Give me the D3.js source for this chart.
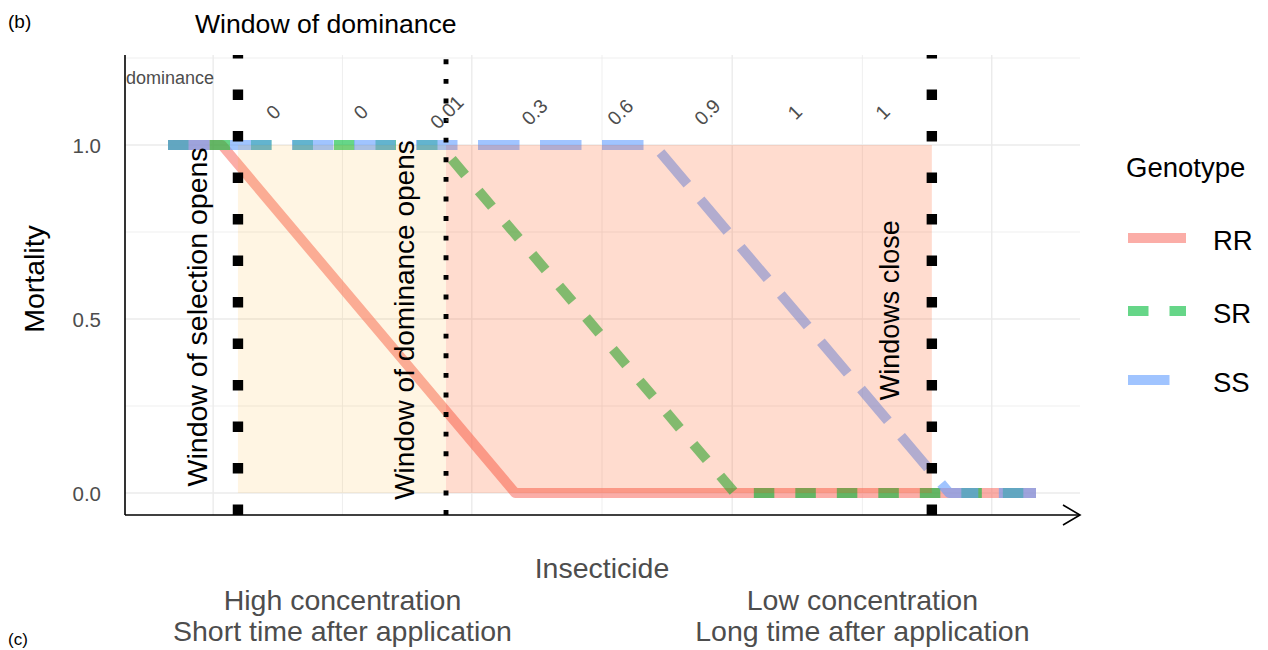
<!DOCTYPE html>
<html>
<head>
<meta charset="utf-8">
<script src="https://cdn.jsdelivr.net/npm/d3@7"></script>
<style>
  html, body { margin: 0; padding: 0; background: #fff; }
  svg { display: block; font-family: "Liberation Sans", Arial, Helvetica, sans-serif; }
</style>
</head>
<body>
<svg id="chart" width="1268" height="650"></svg>
<script>
// ---------- data ----------
const genotypes = ["RR", "SR", "SS"];
const colors = ["#F8766D", "#00BA38", "#619CFF"];
const dashes = [null, "20.5,21", "41.5,20.5"];

const xRR = [0, 0.62, 4.0, 10];
const yRR = [1, 1, 0, 0];
const xSR = [0, 3.13, 6.53, 10];
const ySR = [1, 1, 0, 0];
const xSS = [0, 5.6, 9.0, 10];
const ySS = [1, 1, 0, 0];

const dominanceLabels = ["0", "0", "0.01", "0.3", "0.6", "0.9", "1", "1"];
const dominanceX = [1.21, 2.22, 3.21, 4.22, 5.21, 6.21, 7.22, 8.23];
const dominanceY = 1.095;

const windowLineX = [0.806, 3.203, 8.80];
const windowLineStyle = ["big", "small", "big"];
const windowTexts = ["Window of selection opens", "Window of dominance opens", "Windows close"];
const windowTextX = [0.334, 2.73, 8.32];
const windowTextY = [0.506, 0.497, 0.525];
const windowTextSize = [28.5, 28, 27];

const rectX0 = [0.806, 3.203];
const rectX1 = [3.203, 8.80];
const rectFill = ["#FFA500", "#FF4500"];
const rectOpacity = [0.11, 0.19];

const yTicks = [0, 0.5, 1.0];
const yTickLabels = ["0.0", "0.5", "1.0"];
const yMinor = [0.25, 0.75, 1.25];
const xMajor = [0.52, 3.5, 6.5, 9.49];
const xMinor = [2.01, 5.0, 8.0];

const bottomLabelX = [2.01, 8.0];
const bottomLabels = [["High concentration", "Short time after application"],
                      ["Low concentration", "Long time after application"]];

// ---------- layout ----------
const panel = { left: 125, right: 1080, top: 55, bottom: 515 };
const x = d3.scaleLinear().domain([0, 10]).range([168, 1036]);
const y = d3.scaleLinear().domain([0, 1]).range([493, 145]);

const svg = d3.select("#chart");
const grey = "#4D4D4D";

// grid
const grid = svg.append("g");
grid.selectAll(".hmin").data(yMinor).join("line")
  .attr("x1", panel.left).attr("x2", panel.right)
  .attr("y1", d => y(d)).attr("y2", d => y(d))
  .attr("stroke", "#EBEBEB").attr("stroke-width", 0.8);
grid.selectAll(".hmaj").data(yTicks).join("line")
  .attr("x1", panel.left).attr("x2", panel.right)
  .attr("y1", d => y(d)).attr("y2", d => y(d))
  .attr("stroke", "#EBEBEB").attr("stroke-width", 1.4);
grid.selectAll(".vmin").data(xMinor).join("line")
  .attr("x1", d => x(d)).attr("x2", d => x(d))
  .attr("y1", panel.top).attr("y2", panel.bottom)
  .attr("stroke", "#EBEBEB").attr("stroke-width", 0.8);
grid.selectAll(".vmaj").data(xMajor).join("line")
  .attr("x1", d => x(d)).attr("x2", d => x(d))
  .attr("y1", panel.top).attr("y2", panel.bottom)
  .attr("stroke", "#EBEBEB").attr("stroke-width", 1.4);

// genotype lines
const series = [[xRR, yRR], [xSR, ySR], [xSS, ySS]];
const lineGen = d3.line().x(d => x(d[0])).y(d => y(d[1]));
svg.append("g").selectAll("path").data(series).join("path")
  .attr("d", s => lineGen(s[0].map((v, i) => [v, s[1][i]])))
  .attr("fill", "none")
  .attr("stroke", (d, i) => colors[i])
  .attr("stroke-opacity", 0.6)
  .attr("stroke-width", 10)
  .attr("stroke-linejoin", "round")
  .attr("stroke-linecap", "butt")
  .attr("stroke-dasharray", (d, i) => dashes[i]);

// shaded windows (drawn over the lines, semi-transparent)
svg.append("g").selectAll("rect").data(rectX0).join("rect")
  .attr("x", d => x(d))
  .attr("width", (d, i) => x(rectX1[i]) - x(d))
  .attr("y", y(1)).attr("height", y(0) - y(1))
  .attr("fill", (d, i) => rectFill[i])
  .attr("fill-opacity", (d, i) => rectOpacity[i]);

// window lines (dotted)
svg.append("g").selectAll("line").data(windowLineX).join("line")
  .attr("x1", d => x(d)).attr("x2", d => x(d))
  .attr("y1", panel.bottom).attr("y2", panel.top)
  .attr("stroke", "#000")
  .attr("stroke-width", (d, i) => windowLineStyle[i] === "big" ? 10.4 : 4.9)
  .attr("stroke-dasharray", (d, i) => windowLineStyle[i] === "big" ? "10.4,31.1" : "4.9,14.7");

// window texts (vertical)
svg.append("g").selectAll("text").data(windowTexts).join("text")
  .attr("transform", (d, i) => `translate(${x(windowTextX[i])},${y(windowTextY[i])}) rotate(-90)`)
  .attr("text-anchor", "middle")
  .attr("dominant-baseline", "central")
  .attr("font-size", (d, i) => windowTextSize[i])
  .attr("fill", "#000")
  .text(d => d);

// dominance labels
svg.append("text")
  .attr("x", 126).attr("y", 78)
  .attr("dominant-baseline", "central")
  .attr("font-size", 18).attr("fill", grey)
  .text("dominance");
svg.append("g").selectAll("text").data(dominanceLabels).join("text")
  .attr("transform", (d, i) => `translate(${x(dominanceX[i])},${y(dominanceY)}) rotate(-45)`)
  .attr("text-anchor", "middle")
  .attr("dominant-baseline", "central")
  .attr("font-size", 19.5).attr("fill", grey)
  .text(d => d);

// axes
svg.append("line")
  .attr("x1", panel.left).attr("x2", panel.left)
  .attr("y1", panel.top).attr("y2", panel.bottom)
  .attr("stroke", "#000").attr("stroke-width", 1.6);
svg.append("line")
  .attr("x1", panel.left).attr("x2", panel.right)
  .attr("y1", panel.bottom).attr("y2", panel.bottom)
  .attr("stroke", "#000").attr("stroke-width", 1.6);
svg.append("path")
  .attr("d", `M${panel.right - 17},${panel.bottom - 10} L${panel.right},${panel.bottom} L${panel.right - 17},${panel.bottom + 10}`)
  .attr("fill", "none").attr("stroke", "#000").attr("stroke-width", 1.6);

// y ticks
svg.append("g").selectAll("text").data(yTicks).join("text")
  .attr("x", 101).attr("y", d => y(d))
  .attr("text-anchor", "end").attr("dominant-baseline", "central")
  .attr("font-size", 20.5).attr("fill", grey)
  .text((d, i) => yTickLabels[i]);

// axis titles
svg.append("text")
  .attr("transform", `translate(34,${y(0.5) - 40}) rotate(-90)`)
  .attr("text-anchor", "middle").attr("dominant-baseline", "central")
  .attr("font-size", 28.5).attr("fill", "#000")
  .text("Mortality");
svg.append("text")
  .attr("x", x(5.0)).attr("y", 578)
  .attr("text-anchor", "middle")
  .attr("font-size", 28.5).attr("fill", grey)
  .text("Insecticide");

// bottom labels
bottomLabels.forEach((lines, i) => {
  lines.forEach((t, j) => {
    svg.append("text")
      .attr("x", x(bottomLabelX[i])).attr("y", 610 + j * 31)
      .attr("text-anchor", "middle")
      .attr("font-size", 28.5).attr("fill", grey)
      .text(t);
  });
});

// title and panel tags
svg.append("text").attr("x", 195).attr("y", 33)
  .attr("font-size", 26.6).attr("fill", "#000").text("Window of dominance");
svg.append("text").attr("x", 8).attr("y", 28)
  .attr("font-size", 19).attr("fill", "#000").text("(b)");
svg.append("text").attr("x", 8).attr("y", 645)
  .attr("font-size", 17).attr("fill", "#000").text("(c)");

// legend
svg.append("text").attr("x", 1126).attr("y", 177)
  .attr("font-size", 27.5).attr("fill", "#000").text("Genotype");
const legendY = [238, 311, 380];
const leg = svg.append("g").selectAll("g").data(genotypes).join("g");
leg.append("line")
  .attr("x1", 1128).attr("x2", 1186)
  .attr("y1", (d, i) => legendY[i]).attr("y2", (d, i) => legendY[i])
  .attr("stroke", (d, i) => colors[i])
  .attr("stroke-opacity", 0.6)
  .attr("stroke-width", 10)
  .attr("stroke-dasharray", (d, i) => dashes[i]);
leg.append("text")
  .attr("x", 1213).attr("y", (d, i) => legendY[i] + 2)
  .attr("dominant-baseline", "central")
  .attr("font-size", 27.5).attr("fill", "#000")
  .text(d => d);
</script>
</body>
</html>
